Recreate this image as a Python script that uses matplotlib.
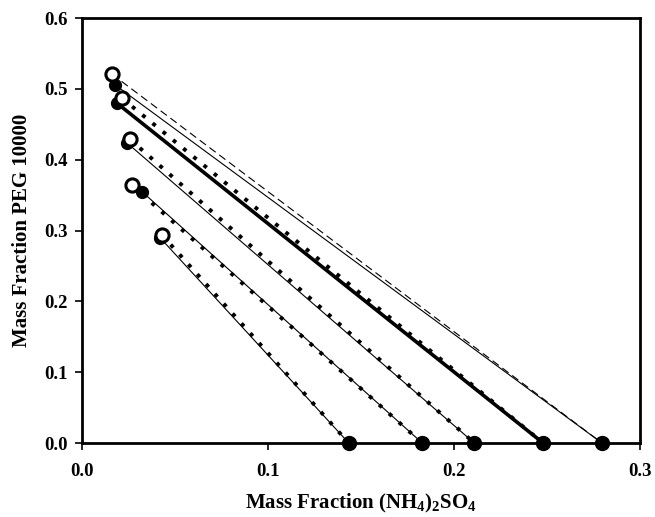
import numpy as np
import matplotlib
matplotlib.use("Agg")
import matplotlib.pyplot as plt

# Tie lines: PEG-rich end (open = calculated, filled = experimental), salt-rich end on x axis
open_x = [0.0161, 0.0215, 0.0258, 0.0269, 0.0430]
open_y = [0.521, 0.487, 0.429, 0.364, 0.294]
filled_x = [0.0177, 0.0188, 0.0242, 0.0323, 0.0420]
filled_y = [0.506, 0.480, 0.424, 0.355, 0.290]
salt_x = [0.2796, 0.2480, 0.2110, 0.1830, 0.1435]
salt_y = [0.0, 0.0, 0.0, 0.0, 0.0]

# line styles per tie line (solid line through filled, broken line through open)
solid_lw = [0.8, 2.6, 0.8, 0.8, 0.8]
broken_styles = [
    dict(lw=0.8, dashes=(7, 4)),
    dict(lw=2.8, dashes=(1, 2.4)),
    dict(lw=2.8, dashes=(1, 2.4)),
    dict(lw=2.8, dashes=(1, 2.4)),
    dict(lw=2.8, dashes=(1, 2.4)),
]

plt.rcParams["font.family"] = ["Liberation Serif", "DejaVu Serif"]
plt.rcParams["font.weight"] = "bold"
plt.rcParams["mathtext.fontset"] = "custom"
plt.rcParams["mathtext.rm"] = "Liberation Serif:bold"
plt.rcParams["mathtext.bf"] = "Liberation Serif:bold"
plt.rcParams["mathtext.it"] = "Liberation Serif:bold"

fig = plt.figure(figsize=(6.55, 5.17), dpi=100)
ax = fig.add_axes([0.125, 0.143, 0.852, 0.822])

for i in range(len(salt_x)):
    ax.plot([filled_x[i], salt_x[i]], [filled_y[i], salt_y[i]], color="black",
            lw=solid_lw[i], solid_capstyle="butt", zorder=2)
    ax.plot([open_x[i], salt_x[i]], [open_y[i], salt_y[i]], color="black",
            linestyle="--", dash_capstyle="butt", zorder=2, **broken_styles[i])

ax.plot(filled_x, filled_y, "o", color="black", ms=8.5, zorder=3)
ax.plot(open_x, open_y, "o", mfc="white", mec="black", mew=2.2, ms=9.5, zorder=4)
ax.plot(salt_x, salt_y, "o", color="black", ms=10, zorder=5, clip_on=False)

ax.set_xlim(0, 0.3)
ax.set_ylim(0, 0.6)
ax.set_xticks(np.arange(0, 0.31, 0.1))
ax.set_yticks(np.arange(0, 0.61, 0.1))
ax.xaxis.set_major_formatter(matplotlib.ticker.FormatStrFormatter("%.1f"))
ax.yaxis.set_major_formatter(matplotlib.ticker.FormatStrFormatter("%.1f"))
ax.tick_params(direction="out", length=5, width=1.2, labelsize=13.5)
ax.tick_params(axis="x", pad=9)
ax.tick_params(axis="y", pad=5)
for s in ax.spines.values():
    s.set_linewidth(2)

ax.set_xlabel(r"Mass Fraction (NH$_{4}$)$_{2}$SO$_{4}$",
              fontsize=15, fontweight="bold", labelpad=9)
ax.set_ylabel("Mass Fraction PEG 10000", fontsize=15, fontweight="bold", labelpad=9)

fig.savefig("out.png", dpi=100)
